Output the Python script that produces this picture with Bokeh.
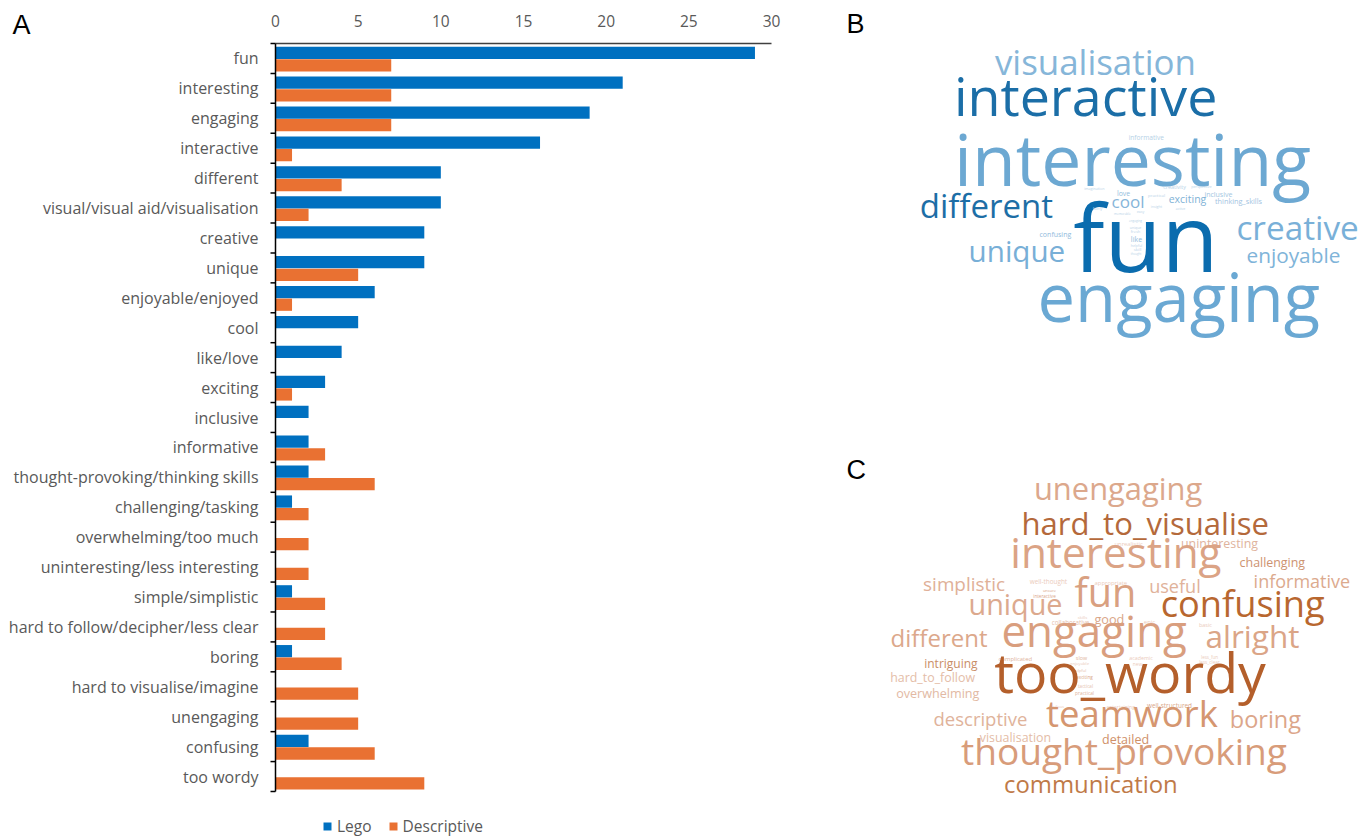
from bokeh.plotting import figure
from bokeh.models import Range1d, Legend, LegendItem, ColumnDataSource
from bokeh.transform import dodge
from bokeh.core.properties import value
from bokeh.embed import file_html
from bokeh.resources import INLINE

# ---------------- data ----------------
categories = ["fun", "interesting", "engaging", "interactive", "different",
              "visual/visual aid/visualisation", "creative", "unique", "enjoyable/enjoyed",
              "cool", "like/love", "exciting", "inclusive", "informative",
              "thought-provoking/thinking skills", "challenging/tasking",
              "overwhelming/too much", "uninteresting/less interesting", "simple/simplistic",
              "hard to follow/decipher/less clear", "boring", "hard to visualise/imagine",
              "unengaging", "confusing", "too wordy"]
lego = [29, 21, 19, 16, 10, 10, 9, 9, 6, 5, 4, 3, 2, 2, 2, 1, 0, 0, 1, 0, 1, 0, 0, 2, 0]
descriptive = [7, 7, 7, 1, 4, 2, 0, 5, 1, 0, 0, 1, 0, 3, 6, 2, 2, 2, 3, 3, 4, 5, 5, 6, 9]
x_ticks = [0, 5, 10, 15, 20, 25, 30]
series_names = ["Lego", "Descriptive"]
panel_letters = ["A", "B", "C"]

cloud_b_words = ["visualisation", "interactive", "interesting", "different", "fun", "creative",
                 "unique", "enjoyable", "engaging", "cool", "exciting", "love", "inclusive",
                 "thinking_skills", "confusing", "like", "informative",
                 "imagination", "creativity", "perspective", "practical", "fairly", "memorable",
                 "easy", "insight", "active", "engaging", "unique", "fresh", "helpful", "skill",
                 "thought"]
cloud_c_words = ["unengaging", "hard_to_visualise", "uninteresting", "unrealistic", "interesting",
                 "challenging", "simplistic", "informative", "well-thought", "appropriate",
                 "unsure", "interactive", "fun", "useful", "unique", "confusing", "skills",
                 "collaborative", "good", "epic", "basic", "different", "engaging", "alright",
                 "complicated", "slow", "academic", "new", "less_fun", "less_clear",
                 "intriguing", "enjoyable", "helpful", "exciting", "hard_to_follow",
                 "too_wordy", "tactical", "practical", "overwhelming", "tedious",
                 "entertaining", "well-structured", "descriptive", "teamwork", "boring",
                 "visualisation", "detailed", "thought_provoking", "communication"]

# ---------------- layout (pixels) ----------------
W, H = 1370, 837
PLOT_L, PLOT_R, PLOT_T, PLOT_B = 275, 771, 43, 791
letter_pos = [(12, 35), (846, 34), (846, 480)]     # left x, baseline y
LETTER_SIZE = 27
BASELINE_SHIFT = 0.40      # empirical: raise so that the glyph baseline lands on y
CLOUD_SCALE = 0.94

# word-cloud layout: (left x, baseline y, target width, colour)
cloud_b_layout = [
    (988, 75, 214, "#86b6d9"), (945, 116, 280, "#1b6ea7"), (942, 187, 380, "#6ca8d2"),
    (915, 218, 142, "#1d6ea6"), (1068, 273, 155, "#0b6cae"), (1232, 240, 130, "#79b0d8"),
    (965, 262, 103, "#78afd7"), (1243, 263, 100, "#80b4d9"), (1028, 322, 302, "#6aa8d3"),
    (1110, 208, 35, "#86b5d9"), (1167, 203, 40, "#80b2d6"), (1116, 196, 14, "#93bddd"),
    (1203, 197, 30, "#a3c6e1"), (1213, 203, 50, "#9fc3df"), (1038, 237, 34, "#8fbadb"),
    (1130, 241, 12, "#8fbadb"), (1127, 140, 38, "#b5d1e6"),
    (1083, 189, 22, "#b8d3e8"), (1162, 189, 24, "#b8d3e8"), (1190, 188, 22, "#b8d3e8"),
    (1147, 196, 18, "#b8d3e8"), (1092, 210, 10, "#b8d3e8"), (1113, 215, 18, "#b8d3e8"),
    (1136, 212, 8, "#b8d3e8"), (1150, 207, 12, "#b8d3e8"), (1175, 209, 10, "#b8d3e8"),
    (1128, 222, 14, "#b8d3e8"), (1129, 228, 12, "#b8d3e8"), (1130, 233, 10, "#b8d3e8"),
    (1130, 246, 12, "#b8d3e8"), (1133, 250, 8, "#b8d3e8"), (1130, 255, 11, "#b8d3e8"),
]
cloud_c_layout = [
    (1028, 500, 180, "#dca88c"), (1013, 535, 264, "#b4693b"), (1178, 548, 82, "#e0b39d"),
    (1113, 546, 30, "#ebcbbb"), (1003, 568, 225, "#dba385"), (1237, 567, 70, "#cd9270"),
    (920, 591, 87, "#e0b098"), (1250, 588, 103, "#dcaa8e"), (1028, 584, 40, "#ebcbbb"),
    (1093, 585, 35, "#ebcbbb"), (1042, 592, 14, "#d9a588"), (1032, 597, 24, "#d9a588"),
    (1072, 607, 66, "#d9a081"), (1147, 593, 55, "#e0b29a"), (965, 615, 100, "#dca98e"),
    (1155, 617, 175, "#b8672f"), (1077, 619, 10, "#ebcbbb"), (1050, 625, 40, "#e6c1ae"),
    (1093, 624, 32, "#d9a587"), (1143, 624, 12, "#ebcbbb"), (1198, 627, 14, "#ebcbbb"),
    (887, 647, 103, "#dca88b"), (995, 647, 198, "#d99e7e"), (1202, 648, 100, "#dba587"),
    (997, 661, 36, "#e0b29a"), (1075, 660, 12, "#e0b29a"), (1128, 660, 25, "#ebcbbb"),
    (1132, 665, 10, "#ebcbbb"), (1200, 658, 18, "#ebcbbb"), (1198, 663, 22, "#ebcbbb"),
    (922, 668, 57, "#c98d66"), (1069, 665, 20, "#ebcbbb"), (1072, 672, 14, "#e6c1ae"),
    (1075, 678, 18, "#d9a587"), (887, 682, 91, "#e4bda8"), (985, 693, 290, "#b45f2b"),
    (1077, 687, 16, "#e6c1ae"), (1074, 694, 20, "#e0b29a"), (893, 698, 89, "#e2b9a3"),
    (1050, 708, 14, "#ebcbbb"), (1105, 708, 30, "#ebcbbb"), (1145, 708, 48, "#d9a587"),
    (930, 725, 100, "#e0b39b"), (1040, 727, 183, "#d59670"), (1227, 728, 76, "#dca68a"),
    (977, 742, 76, "#e4bca6"), (1100, 744, 50, "#cf9068"), (950, 765, 348, "#d89c7a"),
    (998, 793, 185, "#bf7a48"),
]

# approximate Open Sans advance widths (em) to size words to a target width
EM = dict(a=.556, b=.613, c=.476, d=.613, e=.561, f=.339, g=.548, h=.614, i=.253, j=.253,
          k=.525, l=.253, m=.930, n=.614, o=.604, p=.613, q=.613, r=.408, s=.477, t=.353,
          u=.614, v=.501, w=.778, x=.524, y=.502, z=.477)
EM["_"] = .448
EM["-"] = .322


def em_width(word):
    return sum(EM.get(ch, .55) for ch in word)


def cloud_source(words, layout):
    sizes = [CLOUD_SCALE * l[2] / em_width(w) for w, l in zip(words, layout)]
    return ColumnDataSource(dict(
        text=words,
        x=[l[0] + l[2] * (1 - CLOUD_SCALE) / 2 for l in layout],
        y=[l[1] - BASELINE_SHIFT * s for l, s in zip(layout, sizes)],
        size=["%.1fpx" % s for s in sizes],
        color=[l[3] for l in layout],
    ))


GRAY = "#595959"
LABEL_FONT = "Open Sans"

# ---------------- one canvas; data ranges chosen so the bar panel sits at its place ----------------
n = len(categories)
x_per_px = (x_ticks[-1] - x_ticks[0]) / (PLOT_R - PLOT_L)
x_start = x_ticks[0] - PLOT_L * x_per_px
y_per_px = n / (PLOT_B - PLOT_T)
y_top = n + 0.5 + PLOT_T * y_per_px
y_bot = 0.5 - (H - PLOT_B) * y_per_px

p = figure(width=W, height=H, x_range=Range1d(x_start, x_start + W * x_per_px),
           y_range=Range1d(y_bot, y_top), min_border=0,
           x_axis_location=None, y_axis_location=None,
           output_backend="svg", toolbar_location=None)
p.outline_line_color = None
p.grid.visible = False
p.extra_x_ranges = {"px": Range1d(0, W)}
p.extra_y_ranges = {"px": Range1d(H, 0)}

# ---------------- panel A : bar chart ----------------
ypos = [n - i for i in range(n)]          # first category at the top
src = ColumnDataSource(dict(y=ypos, cat=categories, lego=lego, desc=descriptive))

r1 = p.hbar(y=dodge("y", 0.19), right="lego", left=0, height=0.41,
            fill_color="#0070C0", line_color=None, source=src)
r2 = p.hbar(y=dodge("y", -0.23), right="desc", left=0, height=0.41,
            fill_color="#E97132", line_color=None, source=src)

# top value axis
p.segment(x0=x_ticks[0], x1=x_ticks[-1], y0=n + 0.5, y1=n + 0.5,
          line_color="#404040", line_width=1.5)
p.text(x=x_ticks, y=[n + 0.5] * len(x_ticks), text=[str(t) for t in x_ticks],
       y_offset=-23, text_align="center", text_baseline="middle",
       text_font=value(LABEL_FONT), text_font_size="15.5px", text_color=GRAY)

# left category axis: line, ticks between categories, labels
p.segment(x0=x_ticks[0], x1=x_ticks[0], y0=0.5, y1=n + 0.5, line_color="black", line_width=1.5)
p.ray(x=[x_ticks[0]] * (n + 1), y=[k + 0.5 for k in range(n + 1)], length=5,
      length_units="screen", angle=180, angle_units="deg", line_color="black", line_width=1.5)
p.text(x=x_ticks[0], y="y", text="cat", source=src, x_offset=-17,
       text_align="right", text_baseline="middle",
       text_font=value(LABEL_FONT), text_font_size="16px", text_color=GRAY)

legend = Legend(items=[LegendItem(label=series_names[0], renderers=[r1]),
                       LegendItem(label=series_names[1], renderers=[r2])],
                orientation="horizontal", location=(322, 0), padding=0, margin=0,
                glyph_width=10, glyph_height=10, label_standoff=5, spacing=16,
                label_text_font=LABEL_FONT, label_text_font_size="15.5px",
                label_text_color=GRAY, background_fill_alpha=0, border_line_color=None)
p.add_layout(legend)

# ---------------- panels B and C : word clouds ----------------
for words, lay in ((cloud_b_words, cloud_b_layout), (cloud_c_words, cloud_c_layout)):
    p.text(x="x", y="y", text="text", text_font_size="size", text_color="color",
           text_align="left", text_baseline="alphabetic", text_font=value("Open Sans"),
           source=cloud_source(words, lay), x_range_name="px", y_range_name="px")

# panel letters
p.text(x=[l[0] for l in letter_pos],
       y=[l[1] - BASELINE_SHIFT * LETTER_SIZE for l in letter_pos], text=panel_letters,
       text_font=value("Liberation Sans"), text_font_size="%dpx" % LETTER_SIZE,
       text_color="black", text_align="left", text_baseline="alphabetic",
       x_range_name="px", y_range_name="px")

open("out.html", "w").write(file_html(p, INLINE))
